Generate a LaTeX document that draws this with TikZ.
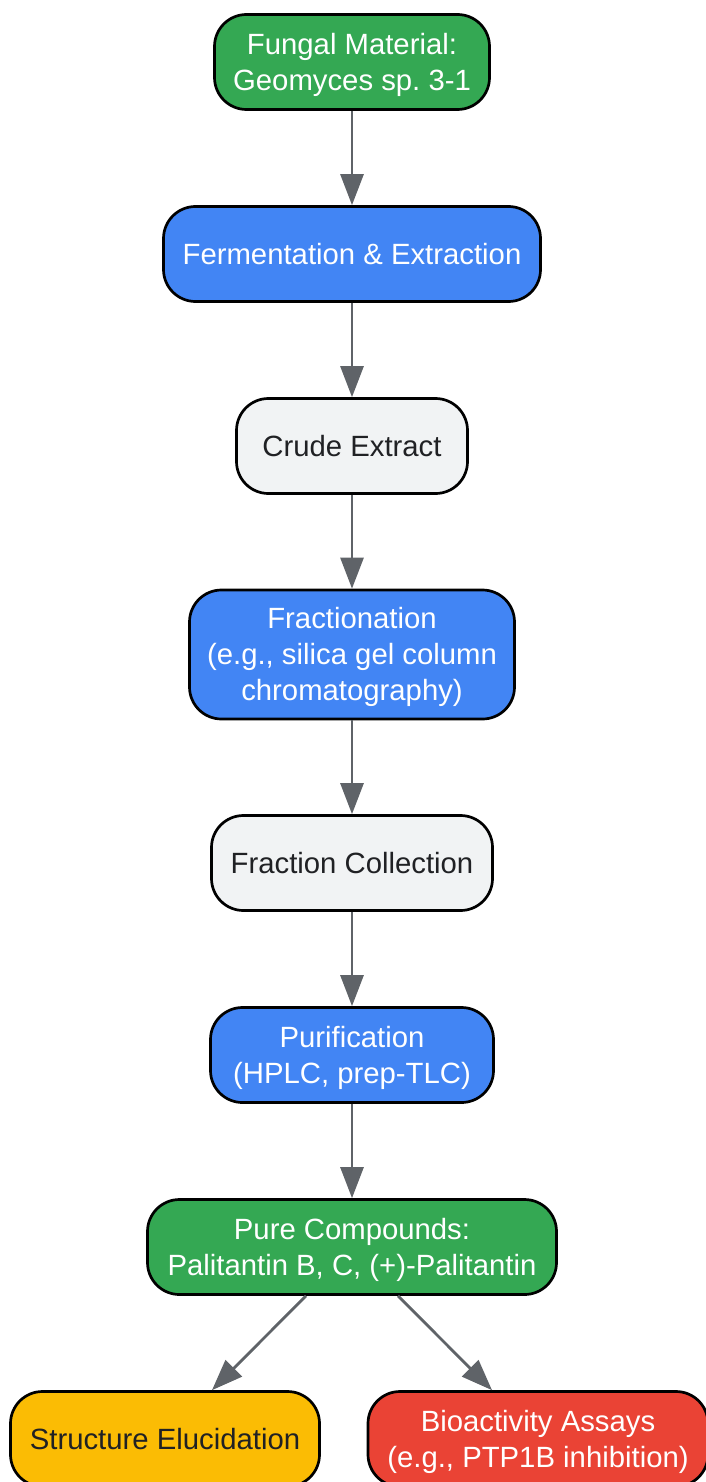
\documentclass[tikz,border=0pt]{standalone}
\usepackage{fontspec}
\setmainfont{Liberation Sans}
\usetikzlibrary{arrows.meta}
\definecolor{cgreen}{HTML}{34A853}
\definecolor{cblue}{HTML}{4285F4}
\definecolor{cgray}{HTML}{F1F3F4}
\definecolor{cyellow}{HTML}{FBBC04}
\definecolor{cred}{HTML}{EA4335}
\definecolor{cink}{HTML}{202124}
\definecolor{cline}{HTML}{5F6368}
\newcommand{\firstline}[1]{\rule{0pt}{#1pt}}
\tikzset{
  box/.style={draw=black,line width=2.7pt,rounded corners=32pt,align=center,inner sep=0pt,
    font=\fontsize{29.3pt}{36pt}\selectfont\frenchspacing},
  light/.style={box,text=white},
  dark/.style={box,text=cink},
  flow/.style={draw=cline,line width=2.8pt,-{Triangle[length=31pt,width=23pt]}},
}
\begin{document}
\begin{tikzpicture}[x=1pt,y=-1pt]
\useasboundingbox (0,0) rectangle (706,1482);
\clip (0,0) rectangle (706,1482);
\node[light,fill=cgreen,minimum width=275pt,minimum height=95pt] (fungal) at (352,62) {\firstline{27}Fungal Material:\\Geomyces sp. 3-1};
\node[light,fill=cblue,minimum width=377pt,minimum height=95pt] (ferment) at (352,254) {Fermentation \& Extraction};
\node[dark,fill=cgray,minimum width=231pt,minimum height=95pt] (crude) at (352,446) {Crude Extract};
\node[light,fill=cblue,minimum width=325pt,minimum height=129pt] (fractionation) at (352,654.5) {\firstline{26}Fractionation\\(e.g., silica gel column\\chromatography)};
\node[dark,fill=cgray,minimum width=281pt,minimum height=95pt] (collection) at (352,863) {Fraction Collection};
\node[light,fill=cblue,minimum width=283pt,minimum height=95pt] (purify) at (352,1055) {\firstline{27}Purification\\(HPLC, prep-TLC)};
\node[light,fill=cgreen,minimum width=409pt,minimum height=95pt] (pure) at (352,1247) {\firstline{27}Pure Compounds:\\Palitantin B, C, (+)-Palitantin};
\node[dark,fill=cyellow,minimum width=309pt,minimum height=95pt] (structure) at (165,1439) {Structure Elucidation};
\node[light,fill=cred,minimum width=340pt,minimum height=95pt] (bio) at (538,1439) {\firstline{27}Bioactivity Assays\\(e.g., PTP1B inhibition)};
\draw[flow] (fungal) -- (ferment);
\draw[flow] (ferment) -- (crude);
\draw[flow] (crude) -- (fractionation);
\draw[flow] (fractionation) -- (collection);
\draw[flow] (collection) -- (purify);
\draw[flow] (purify) -- (pure);
\draw[flow] ([xshift=-46pt]pure.south) -- ([xshift=47pt]structure.north);
\draw[flow] ([xshift=46pt]pure.south) -- ([xshift=-46pt]bio.north);
\end{tikzpicture}
\end{document}
